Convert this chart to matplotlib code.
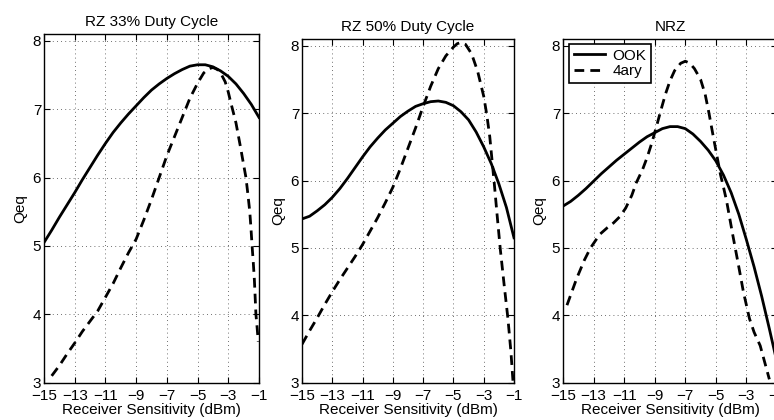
"""Qeq versus receiver sensitivity for RZ 33%, RZ 50% and NRZ formats."""

import matplotlib
matplotlib.use("Agg")
import matplotlib.pyplot as plt

plt.rcParams["font.family"] = ["Liberation Sans", "DejaVu Sans"]
plt.rcParams["font.size"] = 11

# values (x in dBm, y = Qeq)
titles = ["RZ 33% Duty Cycle", "RZ 50% Duty Cycle", "NRZ"]
series_names = ["OOK", "4ary"]

rz33_ook_x = [-15, -14.5, -14, -13.5, -13, -12.5, -12, -11.5, -11, -10.5, -10, -9.5, -9, -8.5, -8,
              -7.5, -7, -6.5, -6, -5.5, -5, -4.5, -4, -3.5, -3, -2.5, -2, -1.5, -1]
rz33_ook_y = [5.05, 5.23, 5.42, 5.6, 5.78, 5.97, 6.15, 6.33, 6.5, 6.66, 6.8, 6.93, 7.05, 7.17, 7.28,
              7.37, 7.45, 7.52, 7.58, 7.63, 7.65, 7.65, 7.62, 7.56, 7.48, 7.37, 7.23, 7.07, 6.88]
rz33_4ary_x = [-14.5, -14, -13.5, -13, -12.5, -12, -11.5, -11, -10.5, -10, -9.5, -9, -8.5, -8,
               -7.5, -7, -6.5, -6, -5.5, -5, -4.6, -4.3, -4.0, -3.7, -3.43, -3.2, -3.0, -2.84,
               -2.68, -2.5, -2.35, -2.2, -2.05, -1.85, -1.72, -1.6, -1.52, -1.45, -1.37, -1.3,
               -1.25, -1.2, -1.12, -1.05]
rz33_4ary_y = [3.1, 3.25, 3.42, 3.58, 3.75, 3.9, 4.05, 4.25, 4.45, 4.68, 4.9, 5.1, 5.38, 5.68,
               6.0, 6.32, 6.6, 6.88, 7.16, 7.38, 7.53, 7.59, 7.61, 7.58, 7.5, 7.4, 7.25, 7.1,
               6.96, 6.8, 6.62, 6.44, 6.25, 6.0, 5.75, 5.5, 5.25, 5.0, 4.75, 4.5,
               4.25, 4.0, 3.8, 3.6]

rz50_ook_x = [-15, -14.5, -14, -13.5, -13, -12.5, -12, -11.5, -11, -10.5, -10, -9.5, -9, -8.5, -8,
              -7.5, -7, -6.5, -6, -5.5, -5, -4.5, -4, -3.5, -3, -2.5, -2, -1.5, -1]
rz50_ook_y = [5.43, 5.47, 5.55, 5.64, 5.75, 5.88, 6.03, 6.19, 6.35, 6.5, 6.63, 6.75, 6.85, 6.95, 7.03,
              7.1, 7.14, 7.17, 7.18, 7.16, 7.11, 7.02, 6.9, 6.72, 6.5, 6.25, 5.95, 5.6, 5.15]
rz50_4ary_x = [-15, -14.5, -14, -13.5, -13, -12.5, -12, -11.5, -11, -10.5, -10, -9.5, -9, -8.5,
               -8, -7.5, -7, -6.5, -6, -5.5, -5, -4.75, -4.5, -4.2, -3.8, -3.4, -3.0, -2.8, -2.6,
               -2.45, -2.3, -2.1, -1.9, -1.65, -1.4, -1.2, -1.07]
rz50_4ary_y = [3.57, 3.77, 3.96, 4.16, 4.35, 4.53, 4.7, 4.87, 5.05, 5.25, 5.45, 5.67, 5.9, 6.18,
               6.48, 6.78, 7.1, 7.4, 7.66, 7.85, 7.98, 8.03, 8.05, 8.02, 7.88, 7.62, 7.25, 6.98, 6.65,
               6.3, 5.95, 5.45, 4.97, 4.45, 3.95, 3.45, 3.03]

nrz_ook_x = [-15, -14.5, -14, -13.5, -13, -12.5, -12, -11.5, -11, -10.5, -10, -9.5, -9, -8.5, -8,
             -7.5, -7, -6.5, -6, -5.5, -5, -4.5, -4, -3.5, -3, -2.5, -2, -1.5, -1]
nrz_ook_y = [5.62, 5.69, 5.78, 5.88, 5.99, 6.1, 6.2, 6.3, 6.39, 6.48, 6.57, 6.65, 6.71, 6.77, 6.8,
             6.8, 6.77, 6.69, 6.58, 6.45, 6.29, 6.08, 5.82, 5.5, 5.12, 4.72, 4.28, 3.8, 3.3]
nrz_4ary_x = [-14.74, -14.1, -13.6, -13.2, -12.6, -12.1, -11.7, -11.3, -10.9, -10.5, -10.2, -9.8,
              -9.5, -9.2, -8.9, -8.6, -8.3, -8.0, -7.7, -7.3, -7.0, -6.7, -6.4, -6.0, -5.7, -5.45,
              -5.2, -4.95, -4.7, -4.5, -4.3, -3.9, -3.5, -3.2, -2.8, -2.5, -2.1, -1.8, -1.5]
nrz_4ary_y = [4.15, 4.55, 4.82, 5.0, 5.2, 5.3, 5.37, 5.46, 5.59, 5.78, 5.97, 6.16,
              6.34, 6.55, 6.79, 7.04, 7.28, 7.48, 7.63, 7.74, 7.77, 7.74, 7.66, 7.5, 7.28, 7.0,
              6.69, 6.39, 6.09, 5.9, 5.7, 5.2, 4.72, 4.35, 3.95, 3.75, 3.55, 3.3, 3.05]

panels = [
    (rz33_ook_x, rz33_ook_y, rz33_4ary_x, rz33_4ary_y),
    (rz50_ook_x, rz50_ook_y, rz50_4ary_x, rz50_4ary_y),
    (nrz_ook_x, nrz_ook_y, nrz_4ary_x, nrz_4ary_y),
]

xticks = [-15, -13, -11, -9, -7, -5, -3, -1]
yticks = [3, 4, 5, 6, 7, 8]

W, H = 774, 420
fig = plt.figure(figsize=(W / 100, H / 100), dpi=100)

# axes boxes in pixels: left, right, top, bottom
boxes = [(44, 259, 34, 382.7), (302, 514, 39, 382.7), (563, 777, 39, 382.7)]

for i, (box, title, (ox, oy, qx, qy)) in enumerate(zip(boxes, titles, panels)):
    l, r, t, b = box
    ax = fig.add_axes([l / W, 1 - b / H, (r - l) / W, (b - t) / H])
    ax.plot(ox, oy, color="black", lw=2, label=series_names[0])
    ax.plot(qx, qy, color="black", lw=2, linestyle=(0, (3.5, 2.2)), label=series_names[1])

    ax.set_xlim(-15, -1)
    ax.set_ylim(3, 8.1)
    ax.set_xticks(xticks)
    ax.set_yticks(yticks)
    ax.tick_params(direction="in", top=True, right=True, length=4, width=0.8, pad=2)
    ax.tick_params(axis="x", pad=4.5)
    ax.grid(True, color="0.25", linestyle=(0, (1, 4)), lw=0.6)
    for s in ax.spines.values():
        s.set_linewidth(1.0)

    ax.set_title(title, fontsize=11, pad=6)
    ax.set_xlabel("Receiver Sensitivity (dBm)", labelpad=0)
    ax.set_ylabel("Qeq", labelpad=4)

    if i == 2:
        leg = ax.legend(loc="upper left", bbox_to_anchor=(0.03, 0.985), borderaxespad=0,
                        fancybox=False, framealpha=1, edgecolor="black", handlelength=2.0,
                        borderpad=0.3, labelspacing=0.1, handletextpad=0.5)
        leg.get_frame().set_linewidth(1.2)

fig.savefig("out.png", dpi=100)
